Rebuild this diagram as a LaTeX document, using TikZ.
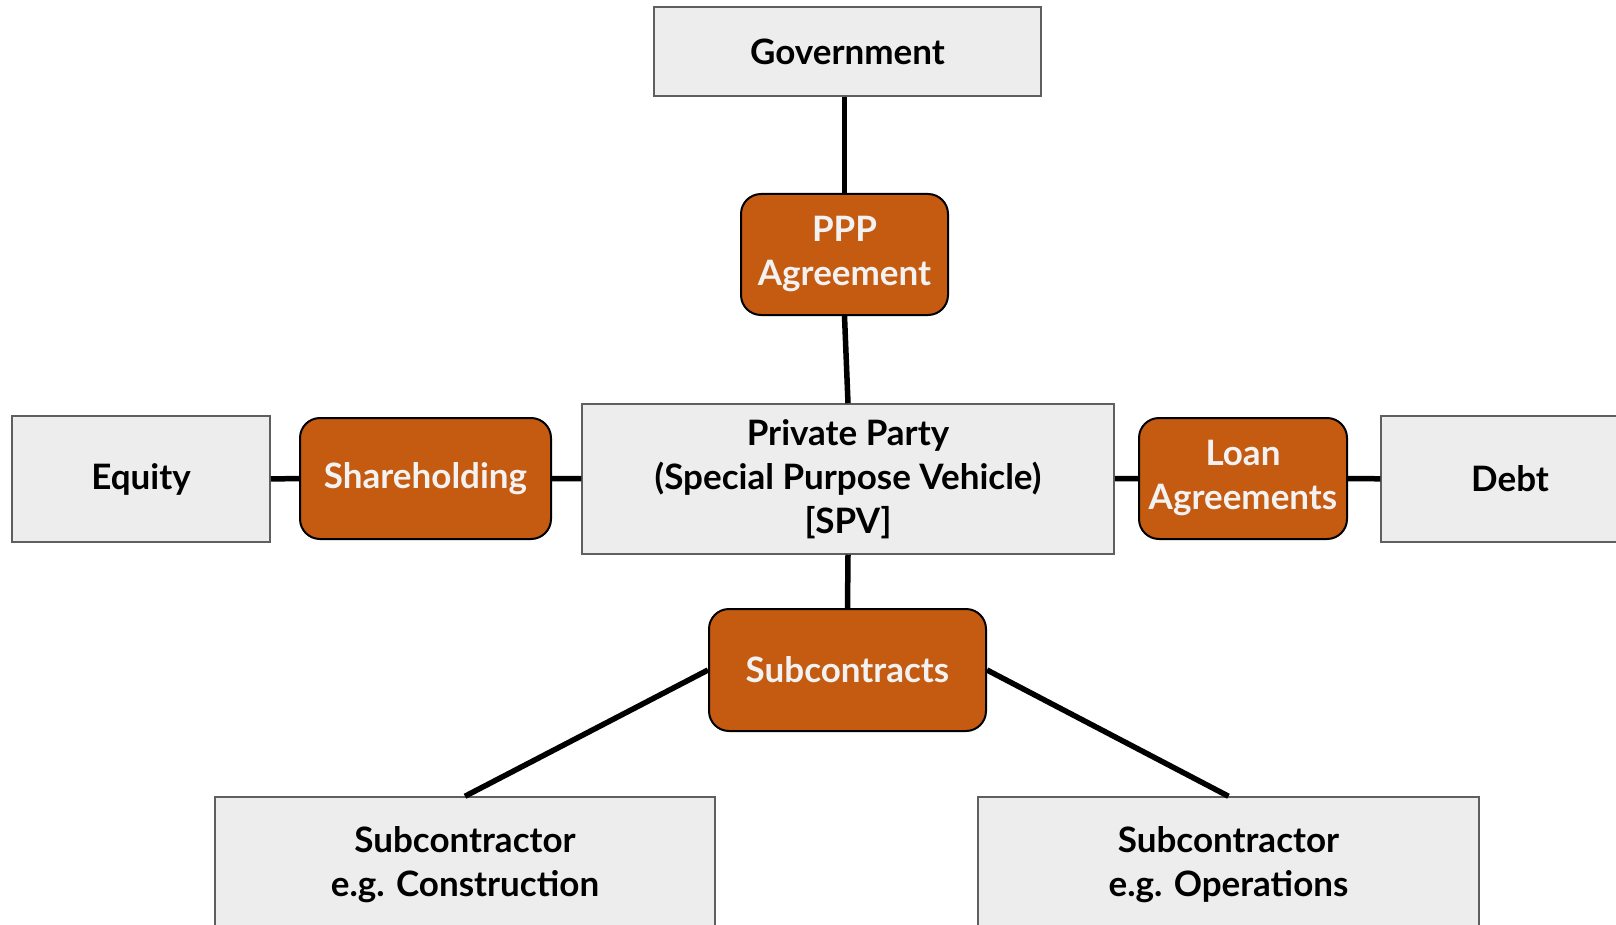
\documentclass[tikz,border=0pt]{standalone}
\usepackage{fontspec}
\setmainfont{Lato}
\usepackage{tikz}
\usetikzlibrary{positioning}

\definecolor{dealorange}{HTML}{C55A11}
\definecolor{partygray}{HTML}{EDEDED}
\definecolor{partyline}{HTML}{5F5F5F}
\definecolor{dealtext}{HTML}{F2F2F2}

\begin{document}
\begin{tikzpicture}[x=1pt, y=-1pt,
    party/.style={rectangle, draw=partyline, line width=1.5pt, fill=partygray, align=center, inner sep=0pt, text=black},
    deal/.style={rectangle, rounded corners=20pt, draw=black, line width=2pt, fill=dealorange, align=center, inner sep=0pt, text=dealtext},
    link/.style={line width=5.5pt, draw=black},
    font=\fontsize{35}{44}\selectfont\bfseries
  ]
  % page frame (boxes at the edges are cut off)
  \useasboundingbox (0,0) rectangle (1616,925);
  \clip (0,0) rectangle (1616,925);

  % -- 1. PARTIES --
  \node[party, minimum width=387pt, minimum height=89pt] (gov) at (847.5, 51.5) {Government};
  \node[party, minimum width=532pt, minimum height=150pt] (spv) at (848, 479)
    {Private Party\\(Special Purpose Vehicle)\\{[SPV]}};
  \node[party, minimum width=258pt, minimum height=126pt] (equity) at (141, 479) {Equity};
  \node[party, minimum width=258pt, minimum height=126pt] (debt) at (1510, 479) {Debt};
  \node[party, minimum width=500pt, minimum height=135pt] (buildsub) at (465, 864.5)
    {Subcontractor\\e.g. Construction};
  \node[party, minimum width=501pt, minimum height=135pt] (opsub) at (1228.5, 864.5)
    {Subcontractor\\e.g. Operations};

  % -- 2. CONTRACTS --
  \node[deal, minimum width=207pt, minimum height=121pt] (ppp) at (844.5, 254.5) {PPP\\Agreement};
  \node[deal, minimum width=251pt, minimum height=121pt] (share) at (425.5, 478.5) {Shareholding};
  \node[deal, minimum width=208pt, minimum height=121pt] (loan) at (1243, 478.5) {Loan\\Agreements};
  \node[deal, minimum width=277pt, minimum height=122pt] (subs) at (847.5, 670) {Subcontracts};

  % -- 3. LINKS --
  \draw[link] (ppp.north) -- (ppp.north |- gov.south);
  \draw[link] (ppp.south) -- (spv.north);
  \draw[link] (equity) -- (share);
  \draw[link] (share) -- (spv);
  \draw[link] (spv) -- (loan);
  \draw[link] (loan) -- (debt);
  \draw[link] (spv.south) -- (subs.north);
  \draw[link] (subs.west) -- (buildsub.north);
  \draw[link] (subs.east) -- (opsub.north);
\end{tikzpicture}
\end{document}
